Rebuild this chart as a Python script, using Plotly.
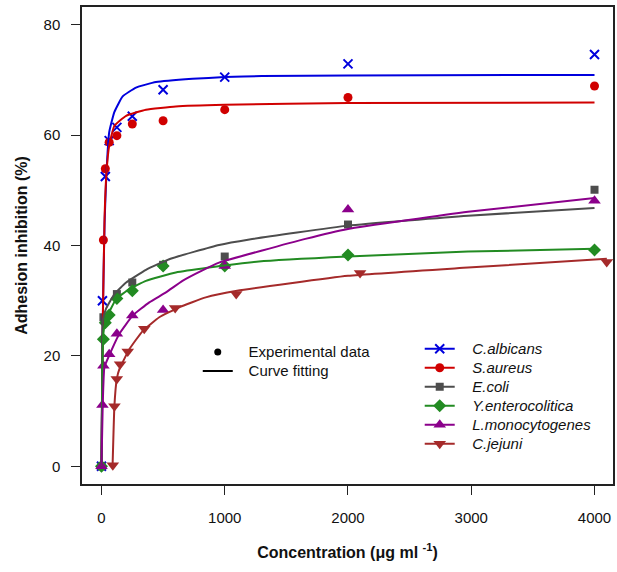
import plotly.graph_objects as go

# ---------------- data ----------------
species = ["C.albicans", "S.aureus", "E.coli", "Y.enterocolitica", "L.monocytogenes", "C.jejuni"]
colors = ["#0000DD", "#D00000", "#4D4D4D", "#228B22", "#8B008B", "#A52A2A"]
symbols = ["x-thin-open", "circle", "square", "diamond", "triangle-up", "triangle-down"]
msizes = [9, 9, 8, 10, 11, 11]

# experimental points
pts_x_calb = [0, 7.8, 31.25, 62.5, 125, 250, 500, 1000, 2000, 4000]
pts_y_calb = [0, 30.0, 52.5, 59.0, 61.4, 63.4, 68.2, 70.5, 72.9, 74.6]
pts_x_saur = [15.6, 31.25, 62.5, 125, 250, 500, 1000, 2000, 4000]
pts_y_saur = [41.0, 53.9, 58.7, 59.9, 62.0, 62.6, 64.6, 66.8, 68.9]
pts_x_ecol = [0, 15.6, 125, 250, 500, 1000, 2000, 4000]
pts_y_ecol = [0, 27.0, 31.2, 33.3, 36.5, 38.0, 43.8, 50.1]
pts_x_yent = [0, 15.6, 31.25, 62.5, 125, 250, 500, 1000, 2000, 4000]
pts_y_yent = [0, 23.0, 26.0, 27.4, 30.4, 31.8, 36.3, 36.3, 38.3, 39.2]
pts_x_lmon = [0, 7.8, 15.6, 62.5, 125, 250, 500, 1000, 2000, 4000]
pts_y_lmon = [0, 11.1, 18.2, 20.3, 24.0, 27.3, 28.3, 36.3, 46.5, 48.1]
pts_x_cjej = [92, 105, 124, 151, 213, 347, 598, 1093, 2098, 4099]
pts_y_cjej = [0.2, 10.9, 15.8, 18.5, 20.8, 24.9, 28.7, 31.2, 35.0, 37.0]

# fitted curves
fit_x_calb = [0, 10, 25, 40, 62.5, 105, 172, 280, 442, 738, 1000, 1300, 2000, 4000]
fit_y_calb = [0, 26, 44, 53, 60.5, 64.2, 67.0, 68.6, 69.6, 70.2, 70.5, 70.7, 70.8, 70.9]
fit_x_saur = [0, 10, 25, 40, 62.5, 105, 200, 361, 603, 1000, 2000, 4000]
fit_y_saur = [0, 25, 45, 53, 58.1, 61.7, 63.5, 64.6, 65.2, 65.5, 65.8, 65.9]
fit_x_ecol = [0, 5, 11, 38, 105, 200, 361, 560, 954, 1200, 2000, 2974, 4000]
fit_y_ecol = [0, 15, 26.5, 28.6, 31.2, 33.3, 35.6, 37.6, 40.1, 41.1, 43.6, 45.4, 46.8]
fit_x_yent = [0, 8, 15, 38, 119, 226, 361, 603, 873, 1277, 2000, 2974, 4000]
fit_y_yent = [0, 18, 24, 26.7, 30.3, 32.1, 33.6, 35.1, 36.0, 37.1, 38.0, 38.9, 39.4]
fit_x_lmon = [0, 10, 24, 65, 145, 253, 388, 523, 657, 819, 954, 1654, 2000, 2974, 4000]
fit_y_lmon = [0, 11, 18, 20.2, 24.0, 27.3, 29.7, 31.5, 33.6, 35.5, 36.9, 41.2, 43.0, 46.1, 48.6]
fit_x_cjej = [90, 105, 124, 145, 226, 334, 469, 630, 846, 1100, 2000, 2974, 4100]
fit_y_cjej = [0, 11, 15.8, 17.6, 21.2, 24.5, 27.0, 28.8, 30.6, 31.8, 34.5, 36.0, 37.6]

x_ticks = [0, 1000, 2000, 3000, 4000]
y_ticks = [0, 20, 40, 60, 80]

key_labels = ["Experimental data", "Curve fitting"]

pts = [(pts_x_calb, pts_y_calb), (pts_x_saur, pts_y_saur), (pts_x_ecol, pts_y_ecol),
       (pts_x_yent, pts_y_yent), (pts_x_lmon, pts_y_lmon), (pts_x_cjej, pts_y_cjej)]
fits = [(fit_x_calb, fit_y_calb), (fit_x_saur, fit_y_saur), (fit_x_ecol, fit_y_ecol),
        (fit_x_yent, fit_y_yent), (fit_x_lmon, fit_y_lmon), (fit_x_cjej, fit_y_cjej)]

FONT = "Liberation Sans, Arial, Helvetica, sans-serif"
GAP3 = "\u00a0\u00a0\u00a0"
GAP2 = "\u00a0\u00a0\u2006"


def label(txt, gap, italic=False):
    inner = "<i>" + txt + "</i>" if italic else txt
    return '<span style="font-size:15px">' + gap + inner + "</span>"


fig = go.Figure()

# experimental points
for i, (px, py) in enumerate(pts):
    mk = dict(symbol=symbols[i], size=msizes[i], color=colors[i])
    if symbols[i].startswith("x"):
        mk["line"] = dict(color=colors[i], width=2)
    fig.add_trace(go.Scatter(x=px, y=py, mode="markers", marker=mk,
                             showlegend=False, hoverinfo="x+y"))

# fitted curves
for i, (fx, fy) in enumerate(fits):
    fig.add_trace(go.Scatter(x=fx, y=fy, mode="lines",
                             line=dict(color=colors[i], width=2, shape="spline", smoothing=0.4),
                             showlegend=False, hoverinfo="skip"))

# species legend entries
for i, name in enumerate(species):
    mk = dict(symbol=symbols[i], size=msizes[i], color=colors[i])
    if symbols[i].startswith("x"):
        mk["line"] = dict(color=colors[i], width=2)
    fig.add_trace(go.Scatter(x=[None], y=[None], mode="lines+markers",
                             name=label(name, GAP3, italic=True),
                             line=dict(color=colors[i], width=2), marker=mk, legend="legend"))

# key legend entries
fig.add_trace(go.Scatter(x=[None], y=[None], mode="markers", name=label(key_labels[0], GAP2),
                         marker=dict(symbol="circle", size=7, color="black"), legend="legend2"))
fig.add_trace(go.Scatter(x=[None], y=[None], mode="lines", name=label(key_labels[1], GAP2),
                         line=dict(color="black", width=2), legend="legend2"))

axis_common = dict(showline=True, linecolor="#222222", linewidth=1.5, mirror=True,
                   ticks="outside", ticklen=9, tickwidth=1.2, tickcolor="#222222",
                   showgrid=False, zeroline=False,
                   tickfont=dict(family=FONT, size=15, color="#111111"))

fig.update_layout(
    width=617, height=572,
    margin=dict(l=82, r=2, t=7, b=88),
    paper_bgcolor="white", plot_bgcolor="white",
    font=dict(family=FONT, size=15, color="#111111"),
    xaxis=dict(range=[-158, 4150], tickvals=x_ticks, ticktext=[str(v) for v in x_ticks],
               ticklabelstandoff=10,
               title=dict(text="<b>Concentration (μg ml <sup>-1</sup>)</b>",
                          font=dict(family=FONT, size=16), standoff=22),
               **axis_common),
    yaxis=dict(range=[-3.2, 83.2], tickvals=y_ticks, ticktext=[str(v) for v in y_ticks],
               ticklabelstandoff=8,
               title=dict(text="<b>Adhesion inhibition (%)</b>",
                          font=dict(family=FONT, size=16), standoff=12),
               **axis_common),
    legend=dict(x=0.636, y=0.314, xanchor="left", yanchor="top", bgcolor="rgba(0,0,0,0)",
                itemwidth=30, tracegroupgap=0, font=dict(family=FONT, size=12.3)),
    legend2=dict(x=0.218, y=0.307, xanchor="left", yanchor="top", bgcolor="rgba(0,0,0,0)",
                 itemwidth=30, font=dict(family=FONT, size=12.3)),
    hovermode="closest",
)

fig.write_html("out.html")
